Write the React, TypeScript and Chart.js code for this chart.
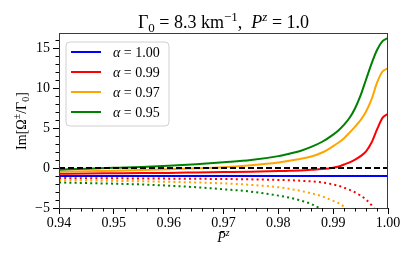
import React, { useEffect, useRef } from 'react';
import { Chart, registerables } from 'chart.js';

Chart.register(...registerables);

// ---------- data ----------
const pz = [
  0.94, 0.945, 0.95, 0.955, 0.96, 0.965, 0.97, 0.975, 0.98, 0.982, 0.984, 0.986,
  0.988, 0.99, 0.991, 0.992, 0.993, 0.994, 0.995, 0.996, 0.997, 0.998, 0.999, 1.0,
];

// Im[Omega+ / Gamma0] (solid)
const plusA100 = [
  -1, -1, -1, -1, -1, -1, -1, -1, -1, -1, -1, -1,
  -1, -1, -1, -1, -1, -1, -1, -1, -1, -1, -1, -1,
];
const plusA099 = [
  -0.7, -0.68, -0.65, -0.62, -0.6, -0.55, -0.5, -0.45, -0.38, -0.34, -0.3, -0.22,
  -0.12, 0.05, 0.2, 0.45, 0.72, 1.05, 1.5, 2.1, 3.2, 4.85, 6.3, 6.8,
];
const plusA097 = [
  -0.45, -0.4, -0.33, -0.25, -0.15, -0.03, 0.12, 0.35, 0.7, 0.92, 1.15, 1.45,
  1.95, 2.75, 3.2, 3.75, 4.45, 5.2, 6.0, 7.1, 8.6, 10.7, 12.1, 12.5,
];
const plusA095 = [
  -0.2, -0.08, 0.03, 0.15, 0.3, 0.48, 0.72, 1.0, 1.5, 1.8, 2.15, 2.65,
  3.3, 4.2, 4.75, 5.45, 6.3, 7.5, 9.1, 11.1, 13.1, 14.8, 15.9, 16.3,
];

// Im[Omega- / Gamma0] (dotted)
const minusA100 = [
  -1, -1, -1, -1, -1, -1, -1, -1, -1, -1, -1, -1,
  -1, -1, -1, -1, -1, -1, -1, -1, -1, -1, -1, -1,
];
const minusA099 = [
  -1.25, -1.27, -1.28, -1.3, -1.32, -1.34, -1.37, -1.41, -1.48, -1.52, -1.58, -1.67,
  -1.8, -2.05, -2.22, -2.45, -2.72, -3.05, -3.45, -3.95, -4.65, -5.6, null, null,
];
const minusA097 = [
  -1.5, -1.55, -1.6, -1.65, -1.72, -1.8, -1.92, -2.1, -2.4, -2.6, -2.85, -3.15,
  -3.55, -4.1, -4.4, -4.85, -5.4, null, null, null, null, null, null, null,
];
const minusA095 = [
  -1.8, -1.88, -1.95, -2.05, -2.2, -2.4, -2.65, -2.95, -3.45, -3.7, -4.05, -4.5,
  -5.2, null, null, null, null, null, null, null, null, null, null, null,
];

const refLineX = [0.94, 1.0];
const refLineY = [0, 0];

const alphaValues = ['1.00', '0.99', '0.97', '0.95'];
const seriesColors = ['#0000ff', '#ff0000', '#ffa500', '#008000'];

const xTicks = [0.94, 0.95, 0.96, 0.97, 0.98, 0.99, 1.0];
const yTicks = [-5, 0, 5, 10, 15];
const xMinorStep = 0.002;
const yMinorStep = 1;
const xRange = [0.94, 1.0];
const yRange = [-5, 16.8];

// ---------- helpers ----------
const FONT = '"Liberation Serif", "DejaVu Serif", serif';

type Run = { t: string; s: number; i?: boolean; dy?: number };

function setFont(ctx: CanvasRenderingContext2D, r: Run) {
  ctx.font = `${r.i ? 'italic ' : ''}${r.s}px ${FONT}`;
}
function runsWidth(ctx: CanvasRenderingContext2D, runs: Run[]) {
  let w = 0;
  for (const r of runs) {
    setFont(ctx, r);
    w += ctx.measureText(r.t).width;
  }
  return w;
}
function drawRuns(ctx: CanvasRenderingContext2D, runs: Run[], x: number, y: number) {
  ctx.textBaseline = 'alphabetic';
  ctx.textAlign = 'left';
  for (const r of runs) {
    setFont(ctx, r);
    ctx.fillText(r.t, x, y + (r.dy || 0));
    x += ctx.measureText(r.t).width;
  }
}

const decorPlugin = {
  id: 'decor',
  afterDraw(chart: any) {
    const ctx: CanvasRenderingContext2D = chart.ctx;
    const area = chart.chartArea;
    const xs = chart.scales.x;
    const ys = chart.scales.y;
    ctx.save();

    // frame
    ctx.strokeStyle = '#3a3a3a';
    ctx.lineWidth = 1;
    ctx.strokeRect(
      Math.round(area.left) + 0.5,
      Math.round(area.top) - 0.5,
      Math.round(area.right - area.left) - 1,
      Math.round(area.bottom - area.top) + 1
    );

    // minor ticks
    ctx.strokeStyle = '#000';
    ctx.lineWidth = 1;
    ctx.beginPath();
    const nX = Math.round((xRange[1] - xRange[0]) / xMinorStep);
    for (let k = 0; k <= nX; k++) {
      if (k % 5 === 0) continue;
      const v = xRange[0] + k * xMinorStep;
      const px = Math.round(xs.getPixelForValue(v)) + 0.5;
      ctx.moveTo(px, area.bottom);
      ctx.lineTo(px, area.bottom + 3.5);
    }
    for (let v = Math.ceil(yRange[0]); v <= yRange[1]; v += yMinorStep) {
      if (v % 5 === 0) continue;
      const py = Math.round(ys.getPixelForValue(v)) + 0.5;
      ctx.moveTo(area.left, py);
      ctx.lineTo(area.left - 3.5, py);
    }
    ctx.stroke();

    // legend
    const lx = 66, ly = 42, lw = 103, lh = 84, rad = 4;
    ctx.beginPath();
    ctx.moveTo(lx + rad, ly);
    ctx.arcTo(lx + lw, ly, lx + lw, ly + lh, rad);
    ctx.arcTo(lx + lw, ly + lh, lx, ly + lh, rad);
    ctx.arcTo(lx, ly + lh, lx, ly, rad);
    ctx.arcTo(lx, ly, lx + lw, ly, rad);
    ctx.closePath();
    ctx.fillStyle = 'rgba(255,255,255,0.8)';
    ctx.fill();
    ctx.strokeStyle = '#d0d0d0';
    ctx.lineWidth = 1;
    ctx.stroke();
    alphaValues.forEach((a, i) => {
      const yy = 52 + i * 20;
      ctx.strokeStyle = seriesColors[i];
      ctx.lineWidth = 2;
      ctx.beginPath();
      ctx.moveTo(71, yy);
      ctx.lineTo(101, yy);
      ctx.stroke();
      ctx.fillStyle = '#000';
      drawRuns(ctx, [{ t: 'α', s: 14, i: true }, { t: ' = ' + a, s: 14 }], 113, yy + 5);
    });

    // title
    ctx.fillStyle = '#000';
    const title: Run[] = [
      { t: 'Γ', s: 18 },
      { t: '0', s: 13, dy: 4 },
      { t: ' = 8.3 km', s: 18 },
      { t: '−1', s: 13, dy: -7.5 },
      { t: ',  ', s: 18 },
      { t: 'P', s: 18, i: true },
      { t: 'z', s: 13, i: true, dy: -7.5 },
      { t: ' = 1.0', s: 18 },
    ];
    const cx = (area.left + area.right) / 2;
    drawRuns(ctx, title, cx - runsWidth(ctx, title) / 2, 28);

    // x label
    const xl: Run[] = [
      { t: 'P\u0304', s: 14, i: true },
      { t: 'z', s: 10, i: true, dy: -6 },
    ];
    drawRuns(ctx, xl, cx - runsWidth(ctx, xl) / 2, 242);

    // y label
    const yl: Run[] = [
      { t: 'Im[Ω', s: 14 },
      { t: '±', s: 10, dy: -6 },
      { t: '/Γ', s: 14 },
      { t: '0', s: 10, dy: 3 },
      { t: ']', s: 14 },
    ];
    const cy = (area.top + area.bottom) / 2;
    ctx.translate(26, cy);
    ctx.rotate(-Math.PI / 2);
    drawRuns(ctx, yl, -runsWidth(ctx, yl) / 2, 0);

    ctx.restore();
  },
};

function pts(ys: (number | null)[]) {
  return pz.map((x, i) => ({ x, y: ys[i] }));
}

export default function App() {
  const ref = useRef<HTMLCanvasElement>(null);

  useEffect(() => {
    if (!ref.current) return;
    const plus = [plusA100, plusA099, plusA097, plusA095];
    const minus = [minusA100, minusA099, minusA097, minusA095];
    const datasets: any[] = [];
    let idx = 0;
    const total = 9;
    plus.forEach((p, i) => {
      datasets.push({
        data: pts(p),
        borderColor: seriesColors[i],
        borderWidth: 2,
        pointRadius: 0,
        cubicInterpolationMode: 'monotone',
        order: total - idx++,
      });
      datasets.push({
        data: pts(minus[i]),
        borderColor: seriesColors[i],
        borderWidth: 2,
        borderDash: [2, 3.2],
        pointRadius: 0,
        cubicInterpolationMode: 'monotone',
        spanGaps: false,
        order: total - idx++,
      });
    });
    datasets.push({
      data: refLineX.map((x, i) => ({ x, y: refLineY[i] })),
      borderColor: '#000',
      borderWidth: 2,
      borderDash: [6, 3],
      pointRadius: 0,
      order: total - idx++,
    });

    const chart = new Chart(ref.current, {
      type: 'line',
      data: { datasets },
      options: {
        animation: false,
        responsive: false,
        devicePixelRatio: 1,
        layout: { padding: { top: 34, right: 27, left: 0, bottom: 0 } },
        plugins: { legend: { display: false }, tooltip: { enabled: false }, title: { display: false } },
        scales: {
          x: {
            type: 'linear',
            min: xRange[0],
            max: xRange[1],
            afterBuildTicks: (s: any) => { s.ticks = xTicks.map((v) => ({ value: v })); },
            afterFit: (s: any) => { s.height = 52; },
            grid: { drawOnChartArea: false, drawTicks: true, tickLength: 6, color: '#000' },
            border: { display: false },
            ticks: {
              padding: 1,
              maxRotation: 0,
              autoSkip: false,
              color: '#000',
              font: { family: FONT, size: 14 },
              callback: (v: any) => Number(v).toFixed(2),
            },
          },
          y: {
            type: 'linear',
            min: yRange[0],
            max: yRange[1],
            afterBuildTicks: (s: any) => { s.ticks = yTicks.map((v) => ({ value: v })); },
            afterFit: (s: any) => { s.width = 59; },
            grid: { drawOnChartArea: false, drawTicks: true, tickLength: 6, color: '#000' },
            border: { display: false },
            ticks: {
              padding: 3,
              autoSkip: false,
              color: '#000',
              font: { family: FONT, size: 14 },
              callback: (v: any) => (Number(v) < 0 ? '−' + Math.abs(Number(v)) : String(v)),
            },
          },
        },
      },
      plugins: [decorPlugin],
    });
    return () => chart.destroy();
  }, []);

  return (
    <div style={{ position: 'fixed', left: 0, top: 0, width: 415, height: 260, background: '#fff' }}>
      <canvas ref={ref} width={415} height={260} style={{ width: 415, height: 260, display: 'block' }} />
    </div>
  );
}
